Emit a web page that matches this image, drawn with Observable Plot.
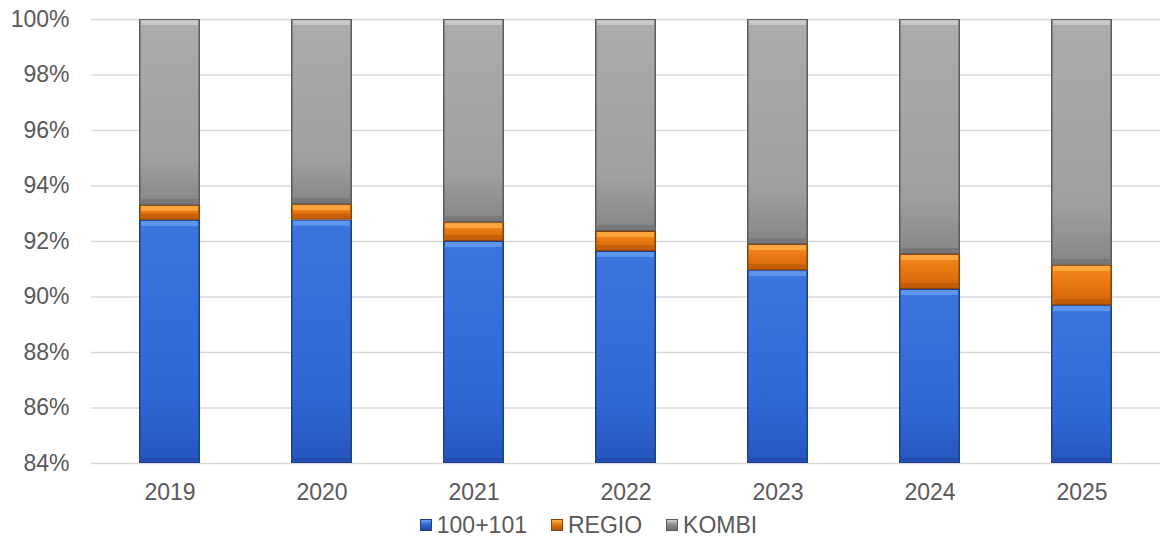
<!DOCTYPE html>
<html>
<head>
<meta charset="utf-8">
<script src="https://cdn.jsdelivr.net/npm/d3@7"></script>
<script src="https://cdn.jsdelivr.net/npm/@observablehq/plot@0.6"></script>
<style>
  html, body { margin: 0; padding: 0; background: #fff; }
  body { width: 1161px; height: 537px; overflow: hidden; font-family: "Liberation Sans", Arial, sans-serif; }
  #legend { display: flex; justify-content: center; align-items: center; height: 32px; padding-top: 4px; font-size: 23px; color: #595959; margin-left: 16px; }
  #legend .item { display: flex; align-items: center; margin: 0 12px; }
  #legend .sw { width: 12px; height: 12px; margin-right: 5px; box-sizing: border-box; }
</style>
</head>
<body>
<div id="chart"></div>
<div id="legend"></div>
<script>
const years = ["2019", "2020", "2021", "2022", "2023", "2024", "2025"];
const seriesNames = ["100+101", "REGIO", "KOMBI"];
const v100 = [92.76, 92.77, 92.0, 91.64, 90.95, 90.27, 89.69];
const vRegio = [0.54, 0.56, 0.68, 0.72, 0.94, 1.26, 1.45];
const vKombi = [6.70, 6.67, 7.32, 7.64, 8.11, 8.47, 8.86];
const yTicks = [84, 86, 88, 90, 92, 94, 96, 98, 100];

const yMin = 84, yMax = 100;
const styles = {
  "100+101": {grad: "gBlue", light: "#6aa0f0", dark: "#1f4aa6", edge: "#1d3f8c", sw: "#2f66d0"},
  "REGIO":   {grad: "gOrange", light: "#ffb24a", dark: "#b4560a", edge: "#8a4208", sw: "#e8760f"},
  "KOMBI":   {grad: "gGray", light: "#d2d2d2", dark: "#6c6c6c", edge: "#5c5c5c", sw: "#8f8f8f"}
};

const values = [v100, vRegio, vKombi];
const rows = [];
years.forEach((yr, i) => {
  let base = 0;
  seriesNames.forEach((s, k) => {
    const lo = base, hi = base + values[k][i];
    base = hi;
    rows.push({year: yr, series: s, y1: Math.max(yMin, lo), y2: Math.min(yMax, hi)});
  });
});

const marks = [
  Plot.gridY(yTicks, {stroke: "#d9d9d9", strokeOpacity: 1, strokeWidth: 1.3}),
];
for (const s of seriesNames) {
  const st = styles[s];
  const d = rows.filter(r => r.series === s);
  marks.push(Plot.barY(d, {x: "year", y1: "y1", y2: "y2", fill: st.edge}));
  marks.push(Plot.barY(d, {x: "year", y1: "y1", y2: "y2", fill: `url(#${st.grad})`, insetLeft: 1.5, insetRight: 1.5, insetTop: 1, insetBottom: 1}));
  marks.push(Plot.barY(d, {x: "year", y1: "y2", y2: "y2", fill: st.light, insetLeft: 2, insetRight: 2, insetTop: 1, insetBottom: -6, fillOpacity: 0.75}));
  marks.push(Plot.barY(d, {x: "year", y1: "y1", y2: "y1", fill: st.dark, insetLeft: 2, insetRight: 2, insetTop: -6, insetBottom: 1, fillOpacity: 0.55}));
}

const chart = Plot.plot({
  width: 1161,
  height: 505,
  marginTop: 19,
  marginBottom: 42,
  marginLeft: 91,
  marginRight: 1,
  style: {fontFamily: "'Liberation Sans', Arial, sans-serif", fontSize: "23px", color: "#595959", background: "#fff"},
  x: {domain: years, paddingInner: 0.6, paddingOuter: 0.3, label: null, tickSize: 0, tickPadding: 20},
  y: {domain: [yMin, yMax], ticks: yTicks, tickFormat: d => d + "%", label: null, tickSize: 0, tickPadding: 22},
  marks
});

const svgNS = "http://www.w3.org/2000/svg";
const defs = document.createElementNS(svgNS, "defs");
const gradSpecs = [
  ["gBlue", [["0%", "#3b76de"], ["70%", "#2f68d4"], ["100%", "#2756bf"]]],
  ["gOrange", [["0%", "#f58a22"], ["50%", "#e8760f"], ["100%", "#d0650a"]]],
  ["gGray", [["0%", "#ababab"], ["75%", "#a0a0a0"], ["100%", "#868686"]]]
];
for (const [id, stops] of gradSpecs) {
  const g = document.createElementNS(svgNS, "linearGradient");
  g.setAttribute("id", id);
  g.setAttribute("x1", "0"); g.setAttribute("y1", "0");
  g.setAttribute("x2", "0"); g.setAttribute("y2", "1");
  for (const [o, c] of stops) {
    const st = document.createElementNS(svgNS, "stop");
    st.setAttribute("offset", o);
    st.setAttribute("stop-color", c);
    g.appendChild(st);
  }
  defs.appendChild(g);
}
chart.insertBefore(defs, chart.firstChild);
document.getElementById("chart").appendChild(chart);

const legend = document.getElementById("legend");
for (const s of seriesNames) {
  const st = styles[s];
  const item = document.createElement("div");
  item.className = "item";
  const sw = document.createElement("div");
  sw.className = "sw";
  sw.style.background = `linear-gradient(${st.light}, ${st.sw} 45%, ${st.dark})`;
  sw.style.border = `1px solid ${st.edge}`;
  const t = document.createElement("span");
  t.textContent = s;
  item.appendChild(sw);
  item.appendChild(t);
  legend.appendChild(item);
}
</script>
</body>
</html>
